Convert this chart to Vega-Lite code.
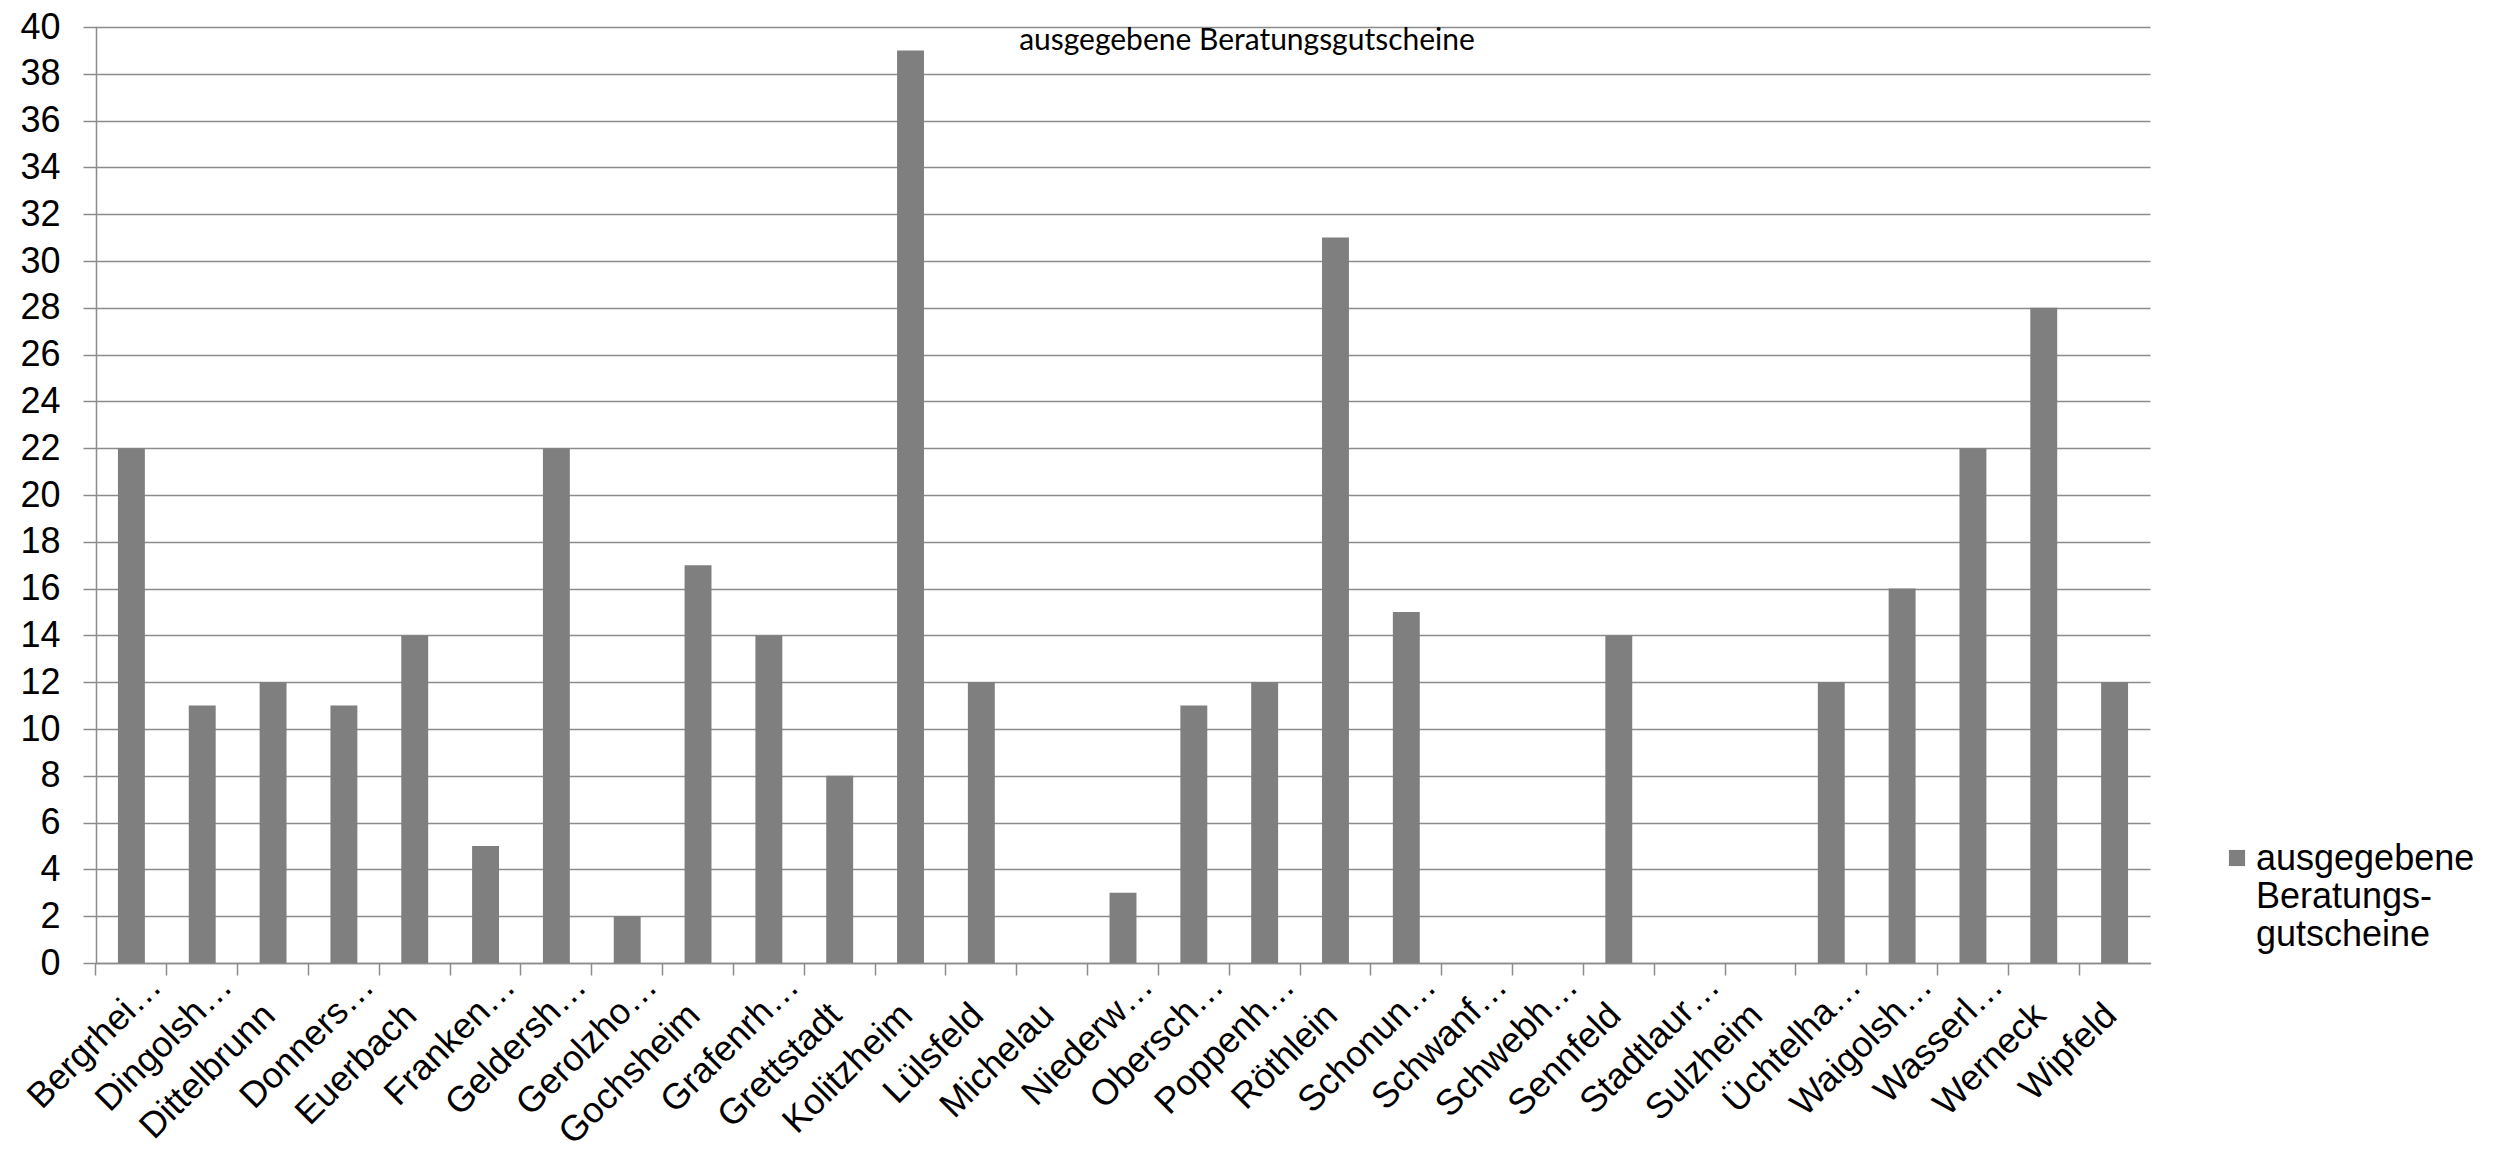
{
  "$schema": "https://vega.github.io/schema/vega-lite/v6.json",
  "width": 2054,
  "height": 936,
  "autosize": {"type": "none"},
  "padding": {"left": 96, "top": 27, "right": 359, "bottom": 190},
  "background": "white",
  "title": {
    "text": "ausgegebene Beratungsgutscheine",
    "anchor": "middle",
    "frame": "group",
    "orient": "top",
    "font": "Lato",
    "fontSize": 30,
    "fontWeight": "normal",
    "color": "#000000",
    "baseline": "alphabetic",
    "offset": -71,
    "dx": 124
  },
  "data": {
    "values": [
      {"gemeinde": "Bergrhei…", "gutscheine": 22, "serie": "ausgegebene Beratungsgutscheine"},
      {"gemeinde": "Dingolsh…", "gutscheine": 11, "serie": "ausgegebene Beratungsgutscheine"},
      {"gemeinde": "Dittelbrunn", "gutscheine": 12, "serie": "ausgegebene Beratungsgutscheine"},
      {"gemeinde": "Donners…", "gutscheine": 11, "serie": "ausgegebene Beratungsgutscheine"},
      {"gemeinde": "Euerbach", "gutscheine": 14, "serie": "ausgegebene Beratungsgutscheine"},
      {"gemeinde": "Franken…", "gutscheine": 5, "serie": "ausgegebene Beratungsgutscheine"},
      {"gemeinde": "Geldersh…", "gutscheine": 22, "serie": "ausgegebene Beratungsgutscheine"},
      {"gemeinde": "Gerolzho…", "gutscheine": 2, "serie": "ausgegebene Beratungsgutscheine"},
      {"gemeinde": "Gochsheim", "gutscheine": 17, "serie": "ausgegebene Beratungsgutscheine"},
      {"gemeinde": "Grafenrh…", "gutscheine": 14, "serie": "ausgegebene Beratungsgutscheine"},
      {"gemeinde": "Grettstadt", "gutscheine": 8, "serie": "ausgegebene Beratungsgutscheine"},
      {"gemeinde": "Kolitzheim", "gutscheine": 39, "serie": "ausgegebene Beratungsgutscheine"},
      {"gemeinde": "Lülsfeld", "gutscheine": 12, "serie": "ausgegebene Beratungsgutscheine"},
      {"gemeinde": "Michelau", "gutscheine": 0, "serie": "ausgegebene Beratungsgutscheine"},
      {"gemeinde": "Niederw…", "gutscheine": 3, "serie": "ausgegebene Beratungsgutscheine"},
      {"gemeinde": "Obersch…", "gutscheine": 11, "serie": "ausgegebene Beratungsgutscheine"},
      {"gemeinde": "Poppenh…", "gutscheine": 12, "serie": "ausgegebene Beratungsgutscheine"},
      {"gemeinde": "Röthlein", "gutscheine": 31, "serie": "ausgegebene Beratungsgutscheine"},
      {"gemeinde": "Schonun…", "gutscheine": 15, "serie": "ausgegebene Beratungsgutscheine"},
      {"gemeinde": "Schwanf…", "gutscheine": 0, "serie": "ausgegebene Beratungsgutscheine"},
      {"gemeinde": "Schwebh…", "gutscheine": 0, "serie": "ausgegebene Beratungsgutscheine"},
      {"gemeinde": "Sennfeld", "gutscheine": 14, "serie": "ausgegebene Beratungsgutscheine"},
      {"gemeinde": "Stadtlaur…", "gutscheine": 0, "serie": "ausgegebene Beratungsgutscheine"},
      {"gemeinde": "Sulzheim", "gutscheine": 0, "serie": "ausgegebene Beratungsgutscheine"},
      {"gemeinde": "Üchtelha…", "gutscheine": 12, "serie": "ausgegebene Beratungsgutscheine"},
      {"gemeinde": "Waigolsh…", "gutscheine": 16, "serie": "ausgegebene Beratungsgutscheine"},
      {"gemeinde": "Wasserl…", "gutscheine": 22, "serie": "ausgegebene Beratungsgutscheine"},
      {"gemeinde": "Werneck", "gutscheine": 28, "serie": "ausgegebene Beratungsgutscheine"},
      {"gemeinde": "Wipfeld", "gutscheine": 12, "serie": "ausgegebene Beratungsgutscheine"}
    ]
  },
  "mark": {"type": "bar"},
  "encoding": {
    "x": {
      "field": "gemeinde",
      "type": "nominal",
      "sort": null,
      "scale": {"paddingInner": 0.62, "paddingOuter": 0.31},
      "axis": {
        "title": null,
        "bandPosition": -0.816,
        "grid": false,
        "domain": true,
        "domainColor": "#8c8c8c",
        "domainWidth": 1.5,
        "ticks": true,
        "tickSize": 12,
        "tickColor": "#8c8c8c",
        "tickWidth": 1.5,
        "labelAngle": -45,
        "labelAlign": "right",
        "labelBaseline": "alphabetic",
        "labelFont": "Liberation Sans",
        "labelFontSize": 36,
        "labelColor": "#000000",
        "labelLimit": 0,
        "labelOverlap": false,
        "labelOffset": {"condition": {"test": "indexof(datum.label, '…') >= 0", "value": 32}, "value": 4},
        "labelPadding": {"condition": {"test": "indexof(datum.label, '…') >= 0", "value": 13}, "value": 42}
      }
    },
    "y": {
      "field": "gutscheine",
      "type": "quantitative",
      "scale": {"domain": [0, 40], "nice": false},
      "axis": {
        "title": null,
        "values": [0, 2, 4, 6, 8, 10, 12, 14, 16, 18, 20, 22, 24, 26, 28, 30, 32, 34, 36, 38, 40],
        "grid": true,
        "gridColor": "#8c8c8c",
        "gridWidth": 1.5,
        "domain": true,
        "domainColor": "#8c8c8c",
        "domainWidth": 1.5,
        "ticks": true,
        "tickSize": 13,
        "tickColor": "#8c8c8c",
        "tickWidth": 1.5,
        "labelFont": "Liberation Sans",
        "labelFontSize": 36,
        "labelColor": "#000000",
        "labelPadding": 23
      }
    },
    "color": {
      "field": "serie",
      "type": "nominal",
      "scale": {"range": ["#7f7f7f"]},
      "legend": {
        "title": null,
        "orient": "none",
        "legendX": 2123,
        "legendY": 813,
        "padding": 0,
        "symbolType": "square",
        "symbolSize": 260,
        "symbolStrokeWidth": 0,
        "symbolOpacity": 1,
        "labelFont": "Liberation Sans",
        "labelFontSize": 36,
        "labelColor": "#000000",
        "labelOffset": 1,
        "labelBaseline": "top",
        "labelLimit": 0,
        "labelExpr": "['ausgegebene', 'Beratungs-', 'gutscheine']",
        "encode": {"labels": {"update": {"dy": {"value": -16}}}}
      }
    }
  },
  "config": {
    "view": {"stroke": null},
    "axis": {"domainCap": "square"}
  }
}
